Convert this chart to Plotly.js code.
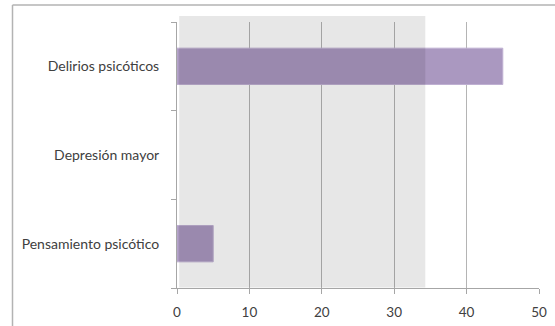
<!DOCTYPE html>
<html>
<head>
<meta charset="utf-8">
<script src="https://cdn.plot.ly/plotly-3.0.1.min.js"></script>
<style>
  html, body { margin: 0; padding: 0; background: #fff; }
  #chart { width: 555px; height: 326px; }
</style>
</head>
<body>
<div id="chart"></div>
<script>
// Categories listed bottom-to-top, as the category axis stacks them
const categories = ['Pensamiento psicótico', 'Depresión mayor', 'Delirios psicóticos'];
const values = [5, 0, 45];
const xTicks = [0, 10, 20, 30, 40, 50];
const shadedBand = [0.3, 34.3];

const bars = {
  type: 'bar',
  orientation: 'h',
  y: categories,
  x: values,
  marker: {
    color: '#aa98c0',
    // no outline on an empty bar, so a zero value draws nothing
    line: { color: '#bfb0d2', width: values.map(v => (v > 0 ? 1 : 0)) }
  },
  hoverinfo: 'x+y'
};

const layout = {
  width: 555,
  height: 326,
  margin: { l: 177, r: 16, t: 22, b: 38 },
  paper_bgcolor: '#ffffff',
  plot_bgcolor: 'rgba(0,0,0,0)',
  showlegend: false,
  bargap: 0.59,
  font: { family: 'Lato, "Open Sans", sans-serif', size: 14, color: '#404040' },
  xaxis: {
    range: [0, 50],
    tickvals: xTicks,
    ticktext: xTicks.map(String),
    showgrid: true,
    gridcolor: '#b4b4b4',
    gridwidth: 1,
    zeroline: false,
    showline: true,
    linecolor: '#a6a6a6',
    linewidth: 1,
    ticks: 'outside',
    ticklen: 5,
    tickcolor: '#a6a6a6',
    ticklabelstandoff: 7,
    tickfont: { size: 13.5, color: '#404040' },
    fixedrange: true
  },
  yaxis: {
    type: 'category',
    categoryorder: 'array',
    categoryarray: categories,
    range: [-0.5, 2.5],
    showgrid: false,
    zeroline: false,
    showline: true,
    linecolor: '#a6a6a6',
    linewidth: 1,
    ticks: 'outside',
    tickson: 'boundaries',
    ticklen: 5,
    tickcolor: '#a6a6a6',
    ticklabelstandoff: 14,
    tickfont: { size: 14, color: '#404040' },
    fixedrange: true
  },
  shapes: [
    // translucent shaded band laid over the bars
    {
      type: 'rect', layer: 'above',
      xref: 'x', yref: 'paper',
      x0: shadedBand[0], x1: shadedBand[1],
      y0: 0.002, y1: 1.0226,
      fillcolor: 'rgba(0,0,0,0.095)',
      line: { width: 0 }
    },
    // chart frame (top and left edges)
    {
      type: 'line', xref: 'paper', yref: 'paper',
      x0: -0.4544, x1: 1.1, y0: 1.0639, y1: 1.0639,
      line: { color: '#b3b3b3', width: 1.5 }
    },
    {
      type: 'line', xref: 'paper', yref: 'paper',
      x0: -0.4544, x1: -0.4544, y0: -0.2, y1: 1.0639,
      line: { color: '#b3b3b3', width: 1.5 }
    }
  ]
};

Plotly.newPlot('chart', [bars], layout, { displayModeBar: false, staticPlot: true });
</script>
</body>
</html>
